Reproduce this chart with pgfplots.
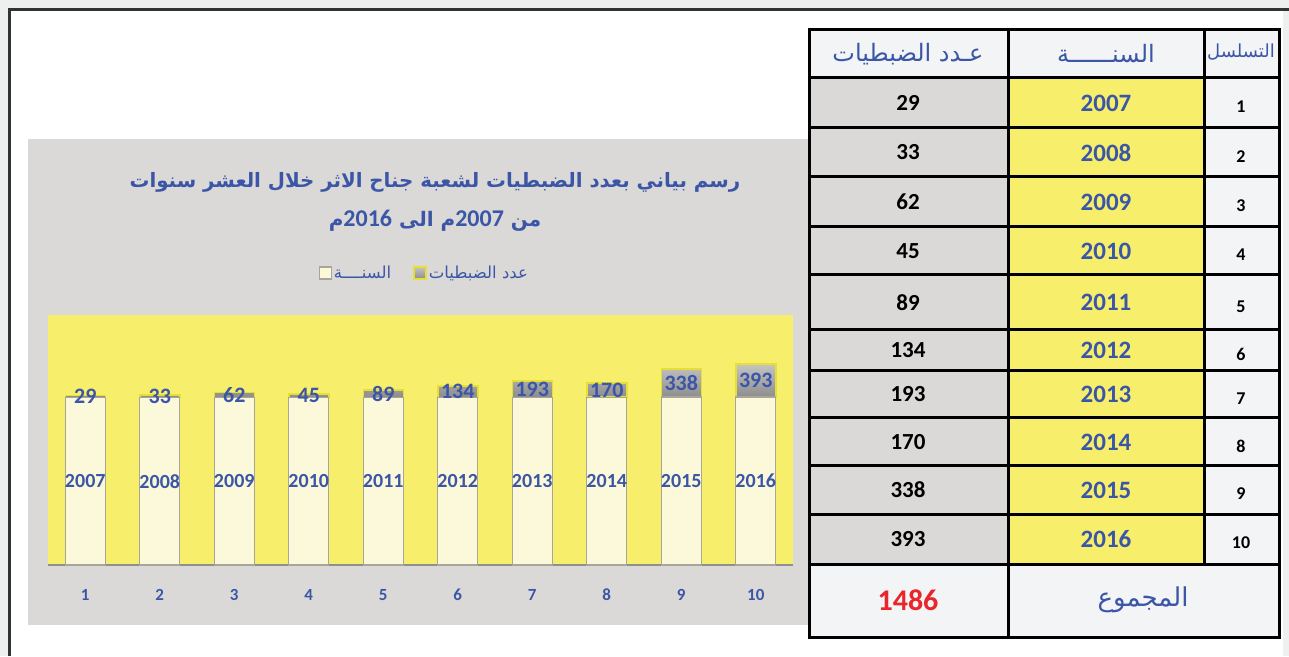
\documentclass[border=0pt]{standalone}
\usepackage{pgfplots}
\pgfplotsset{compat=1.18}
\usepackage{pgfplotstable}
\usepackage{fontspec}
\setmainfont{Carlito}
\newfontfamily\arabicfont[Script=Arabic]{DejaVu Sans}
\newfontfamily\carlito{Carlito}
\TeXXeTstate=1
\definecolor{bgout}{HTML}{EEF0EF}
\definecolor{chartbg}{HTML}{DAD9D7}
\definecolor{plotyellow}{HTML}{F7EF6C}
\definecolor{txtblue}{HTML}{3B56A6}
\definecolor{cream}{HTML}{FBF9DA}
\definecolor{creamedge}{HTML}{A8A698}
\definecolor{greytop}{HTML}{C4C4C4}
\definecolor{greybot}{HTML}{8C8C8C}
\definecolor{baryellow}{HTML}{E8E030}
\definecolor{cellgrey}{HTML}{DAD9D7}
\definecolor{celllight}{HTML}{F3F4F6}
\definecolor{totalred}{HTML}{E8262B}
\definecolor{axisgrey}{HTML}{8F8F8F}
\definecolor{framedark}{HTML}{333333}

\pgfplotstableread{
n year count
1 2007 29
2 2008 33
3 2009 62
4 2010 45
5 2011 89
6 2012 134
7 2013 193
8 2014 170
9 2015 338
10 2016 393
}\data

\pgfplotsset{
  mylegend/.style={legend image code/.code={\draw[##1] (0pt,-6pt) rectangle (12pt,6pt);}},
  samegeom/.style={at={(48pt,91pt)}, anchor=south west,
    width=745pt, height=250pt, scale only axis,
    xmin=0.5, xmax=10.5, ymin=0, ymax=3000, enlargelimits=false},
}

\begin{document}
\begin{tikzpicture}
\begin{scope}[x=1pt,y=1pt]
\fill[bgout] (0,0) rectangle (1289,656);
\useasboundingbox (0,0) rectangle (1289,656);
\fill[white] (10,0) rectangle (1283,646);
\draw[framedark, line width=3pt] (9.5,0) -- (9.5,646.5) -- (1289,646.5);
\fill[chartbg] (28,31) rectangle (810,517);
\node[text=txtblue, font=\arabicfont\bfseries\fontsize{19.8}{24}\selectfont] at (435,474)
  {\beginR رسم بياني بعدد الضبطيات لشعبة جناح الاثر خلال العشر سنوات\endR};
\node[text=txtblue, font=\arabicfont\bfseries\fontsize{20}{24}\selectfont] at (435,435)
  {\beginR من {\carlito\bfseries\fontsize{24}{25}\selectfont\beginL 2007\endL}م الى {\carlito\bfseries\fontsize{24}{25}\selectfont\beginL 2016\endL}م\endR};
\end{scope}

\begin{axis}[
  samegeom,
  ybar stacked, bar width=40pt,
  axis background/.style={fill=plotyellow},
  axis x line*=bottom, axis y line=none,
  x axis line style={draw=axisgrey, line width=2.5pt, -},
  xtick={1,...,10}, ytick=\empty,
  major tick length=0pt,
  /pgf/number format/assume math mode=true,
  xticklabel style={font=\carlito\bfseries\fontsize{17}{17}\selectfont, text=txtblue, anchor=center, yshift=-30pt},
  legend columns=2,
  legend style={draw=none, fill=none, at={(axis description cs:0.505,1.168)}, anchor=center,
    font=\arabicfont\fontsize{16.5}{18}\selectfont, text=txtblue,
    /tikz/every even column/.append style={column sep=20pt}},
]
\addplot[mylegend, fill=cream, draw=creamedge, line width=1.2pt] table[x=n, y=year]{\data};
\addlegendentry{\beginR السنــــة\endR}
\addplot[mylegend, top color=greytop, bottom color=greybot, draw=baryellow, line width=1.5pt] table[x=n, y=count]{\data};
\addlegendentry{\beginR عدد الضبطيات\endR}
\end{axis}

\begin{axis}[
  samegeom, hide axis,
  point meta=explicit symbolic,
  nodes near coords, nodes near coords align={center},
  every node near coord/.append style={text=txtblue, inner sep=0pt},
]
\addplot[draw=none, every node near coord/.append style={font=\carlito\bfseries\fontsize{20}{20}\selectfont}]
  table[x=n, y expr=\thisrow{year}/2, meta=year]{\data};
\addplot[draw=none, every node near coord/.append style={font=\carlito\bfseries\fontsize{22}{22}\selectfont}]
  table[x=n, y expr=\thisrow{year}+\thisrow{count}/2, meta=count]{\data};
\end{axis}

\begin{scope}[x=1pt,y=1pt]
\fill[celllight] (809,19) rectangle (1279,626);
\fill[cellgrey] (809,92) rectangle (1008,578);
\fill[plotyellow] (1008,92) rectangle (1204,578);
\foreach \y in {578,528,479,429,381,326,285,238,190,142,92}
  \draw[black, line width=3pt] (809,\y) -- (1279,\y);
\draw[black, line width=3pt] (1008,19) -- (1008,626);
\draw[black, line width=3pt] (1204,92) -- (1204,626);
\draw[black, line width=3pt] (809,19) rectangle (1279,626);
\node[text=txtblue, font=\arabicfont\fontsize{24}{26}\selectfont] at (908,602) {\beginR عـدد الضبطيات\endR};
\node[text=txtblue, font=\arabicfont\fontsize{24}{26}\selectfont] at (1106,602) {\beginR السنــــــة\endR};
\node[text=txtblue, font=\arabicfont\fontsize{18}{20}\selectfont] at (1241,604) {\beginR التسلسل\endR};
\foreach \r/\yc in {0/553,1/503.5,2/454,3/405,4/353.5,5/305.5,6/261.5,7/214,8/166,9/117}{
  \pgfplotstablegetelem{\r}{count}\of\data
  \node[font=\carlito\bfseries\fontsize{23}{23}\selectfont] at (908,\yc) {\pgfplotsretval};
  \pgfplotstablegetelem{\r}{year}\of\data
  \node[text=txtblue, font=\carlito\bfseries\fontsize{25}{25}\selectfont] at (1106,\yc) {\pgfplotsretval};
  \pgfplotstablegetelem{\r}{n}\of\data
  \node[font=\carlito\bfseries\fontsize{18}{18}\selectfont] at (1241,\yc-4) {\pgfplotsretval};
}
\node[text=totalred, font=\carlito\bfseries\fontsize{30}{30}\selectfont] at (908,56) {1486};
\node[text=txtblue, font=\arabicfont\fontsize{26}{28}\selectfont] at (1143,56) {\beginR المجموع\endR};
\end{scope}
\end{tikzpicture}
\end{document}
